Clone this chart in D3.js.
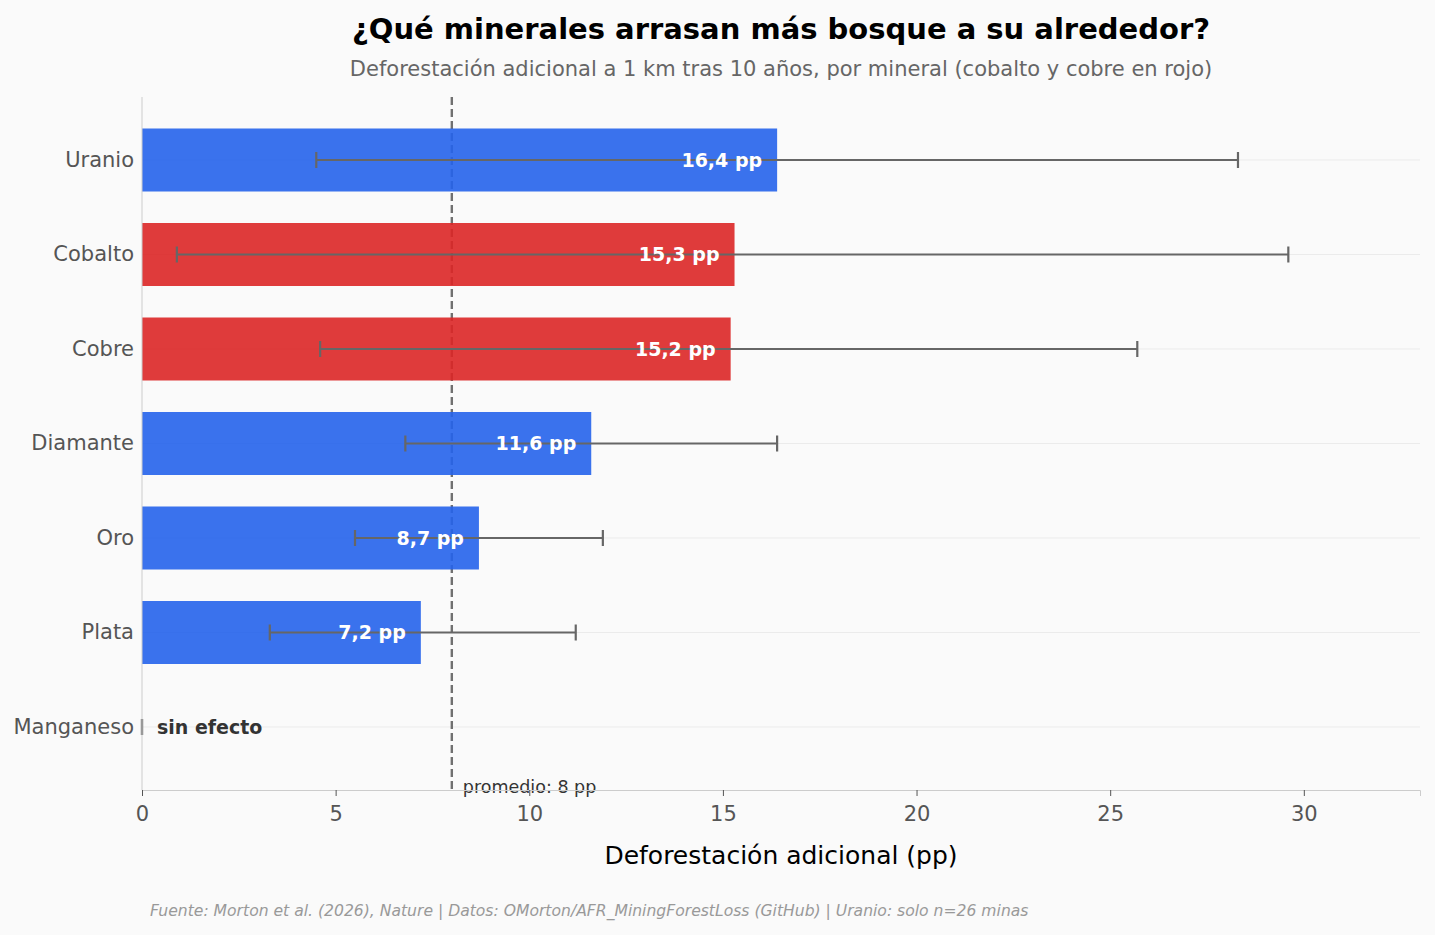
<!DOCTYPE html>
<html>
<head>
<meta charset="UTF-8">
<title>Minerales y deforestación</title>
<script src="https://cdn.jsdelivr.net/npm/d3@7/dist/d3.min.js"></script>
<style>
  html, body { margin: 0; padding: 0; background: #fafafa; }
  text { font-family: "DejaVu Sans", sans-serif; }
</style>
</head>
<body>
<svg id="chart" width="1435" height="935"></svg>
<script>
// datos
var minerales = ["Uranio", "Cobalto", "Cobre", "Diamante", "Oro", "Plata", "Manganeso"];
var valores   = [16.4, 15.3, 15.2, 11.6, 8.7, 7.2, 0];
var ciBajo    = [4.5, 0.9, 4.6, 6.8, 5.5, 3.3, 0];
var ciAlto    = [28.3, 29.6, 25.7, 16.4, 11.9, 11.2, 0];
var etiquetas = ["16,4 pp", "15,3 pp", "15,2 pp", "11,6 pp", "8,7 pp", "7,2 pp", "sin efecto"];
var rojos     = ["Cobalto", "Cobre"];
var promedio  = 8;
var xTicks    = [0, 5, 10, 15, 20, 25, 30];

var svg = d3.select("#chart");
// ojo: "top" choca con window.top
var mLeft = 142, mRight = 1420, mTop = 97, mBottom = 790;

var x = d3.scaleLinear().domain([0, 33]).range([mLeft, mRight]);
var y = d3.scaleBand().domain(minerales)
    .range([112.75, 774.25])
    .paddingInner(1 / 3)
    .paddingOuter(1 / 6);

svg.append("rect").attr("width", 1435).attr("height", 935).attr("fill", "#fafafa");

// grid horizontal
svg.append("g").selectAll("line").data(minerales).enter().append("line")
    .attr("x1", mLeft).attr("x2", mRight)
    .attr("y1", d => y(d) + y.bandwidth() / 2)
    .attr("y2", d => y(d) + y.bandwidth() / 2)
    .attr("stroke", "#ebebeb").attr("stroke-width", 1);

// linea promedio (debajo de las barras)
svg.append("line")
    .attr("x1", x(promedio)).attr("x2", x(promedio))
    .attr("y1", mTop).attr("y2", mBottom)
    .attr("stroke", "#707070").attr("stroke-width", 2.4)
    .attr("stroke-dasharray", "8,4");

// barras
var datos = minerales.map((m, i) => ({ m: m, v: valores[i], lo: ciBajo[i], hi: ciAlto[i], lab: etiquetas[i] }));

svg.append("g").selectAll("rect").data(datos).enter().append("rect")
    .attr("x", x(0))
    .attr("y", d => y(d.m))
    .attr("width", d => x(d.v) - x(0))
    .attr("height", y.bandwidth())
    .attr("fill", d => rojos.indexOf(d.m) >= 0 ? "#dc2626" : "#2563eb")
    .attr("fill-opacity", 0.9);

// barras de error
var eb = svg.append("g").attr("stroke", "#666").attr("stroke-width", 2.2);
datos.forEach(function (d) {
    var cy = y(d.m) + y.bandwidth() / 2;
    eb.append("line").attr("x1", x(d.lo)).attr("x2", x(d.hi)).attr("y1", cy).attr("y2", cy);
    eb.append("line").attr("x1", x(d.lo)).attr("x2", x(d.lo)).attr("y1", cy - 8).attr("y2", cy + 8);
    eb.append("line").attr("x1", x(d.hi)).attr("x2", x(d.hi)).attr("y1", cy - 8).attr("y2", cy + 8);
});

// etiquetas de valores
svg.append("g").selectAll("text").data(datos).enter().append("text")
    .attr("x", d => d.v > 0 ? x(d.v) - 15 : x(0) + 15)
    .attr("y", d => y(d.m) + y.bandwidth() / 2)
    .attr("dy", "0.35em")
    .attr("text-anchor", d => d.v > 0 ? "end" : "start")
    .attr("font-size", 19)
    .attr("font-weight", "bold")
    .attr("fill", d => d.v > 0 ? "#fff" : "#333")
    .text(d => d.lab);

svg.append("text")
    .attr("x", x(promedio) + 11).attr("y", 793)
    .attr("font-size", 17.5).attr("fill", "#333")
    .text("promedio: " + promedio + " pp");

// ejes
var xAxis = svg.append("g").attr("transform", `translate(0,${mBottom})`)
    .call(d3.axisBottom(x).tickValues(xTicks).tickSize(6).tickPadding(10));
xAxis.select(".domain").attr("stroke", "#ccc");
xAxis.selectAll(".tick line").attr("stroke", "#555");
xAxis.selectAll(".tick text").attr("font-size", 21).attr("fill", "#555")
    .attr("font-family", "DejaVu Sans, sans-serif");

var yAxis = svg.append("g").attr("transform", `translate(${mLeft},0)`)
    .call(d3.axisLeft(y).tickSize(0).tickPadding(8));
yAxis.select(".domain").attr("stroke", "#ccc").attr("d", `M0,${mTop}V${mBottom}`);
yAxis.selectAll(".tick text").attr("font-size", 21).attr("fill", "#555")
    .attr("font-family", "DejaVu Sans, sans-serif");

// textos
svg.append("text").attr("x", 781).attr("y", 39).attr("text-anchor", "middle")
    .attr("font-size", 29).attr("font-weight", "bold").attr("fill", "#000")
    .text("¿Qué minerales arrasan más bosque a su alrededor?");
svg.append("text").attr("x", 781).attr("y", 76).attr("text-anchor", "middle")
    .attr("font-size", 21).attr("fill", "#666")
    .text("Deforestación adicional a 1 km tras 10 años, por mineral (cobalto y cobre en rojo)");
svg.append("text").attr("x", 781).attr("y", 864).attr("text-anchor", "middle")
    .attr("font-size", 25).attr("fill", "#000")
    .text("Deforestación adicional (pp)");
svg.append("text").attr("x", 150).attr("y", 916)
    .attr("font-size", 15.6).attr("font-style", "italic").attr("fill", "#999")
    .text("Fuente: Morton et al. (2026), Nature | Datos: OMorton/AFR_MiningForestLoss (GitHub) | Uranio: solo n=26 minas");
</script>
</body>
</html>
